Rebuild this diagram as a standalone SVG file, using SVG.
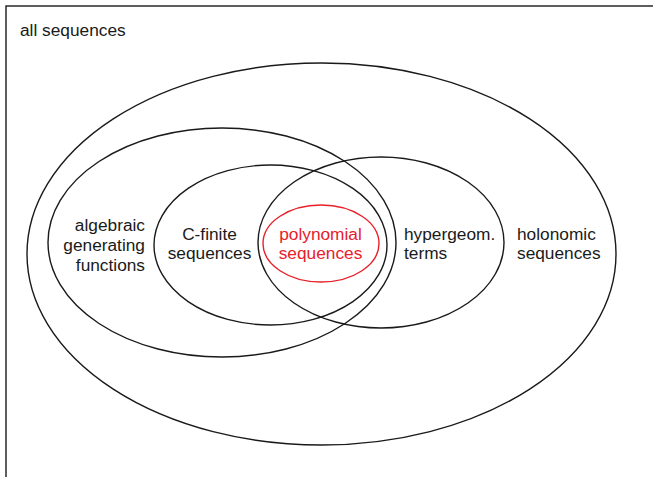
<svg xmlns="http://www.w3.org/2000/svg" width="653" height="477" viewBox="0 0 653 477">
<style>
.e{fill:none;stroke:#1a1a1a;stroke-width:1.4}
.r{fill:none;stroke:#e8202a;stroke-width:1.4}
text{font-family:"Liberation Sans",Arial,sans-serif;font-size:17.3px;fill:#1a1a1a}
.red{fill:#e8202a}
</style>
<rect x="6" y="6" width="700" height="520" fill="#fff" stroke="#1a1a1a" stroke-width="1.4"/>
<g id="all"><text x="20" y="36">all sequences</text></g>
<g id="holonomic">
<ellipse class="e" cx="321.5" cy="254" rx="294.5" ry="191"/>
<text x="517" y="240">holonomic</text><text x="517" y="259">sequences</text>
</g>
<g id="algebraic">
<ellipse class="e" cx="222" cy="242.5" rx="174" ry="114.5"/>
<text x="145" y="231" text-anchor="end">algebraic</text><text x="145" y="251" text-anchor="end">generating</text><text x="145" y="271" text-anchor="end">functions</text>
</g>
<g id="cfinite">
<ellipse class="e" cx="270.5" cy="245" rx="116.5" ry="80"/>
<text x="209.5" y="240" text-anchor="middle">C-finite</text><text x="209.5" y="259" text-anchor="middle">sequences</text>
</g>
<g id="hypergeom">
<ellipse class="e" cx="381" cy="242.5" rx="123" ry="85.5"/>
<text x="404" y="240">hypergeom.</text><text x="404" y="259">terms</text>
</g>
<g id="polynomial">
<ellipse class="r" cx="321" cy="243.5" rx="58" ry="38.5"/>
<text class="red" x="320.5" y="240" text-anchor="middle">polynomial</text><text class="red" x="320.5" y="259" text-anchor="middle">sequences</text>
</g>
<g id="connectors"/>
</svg>
